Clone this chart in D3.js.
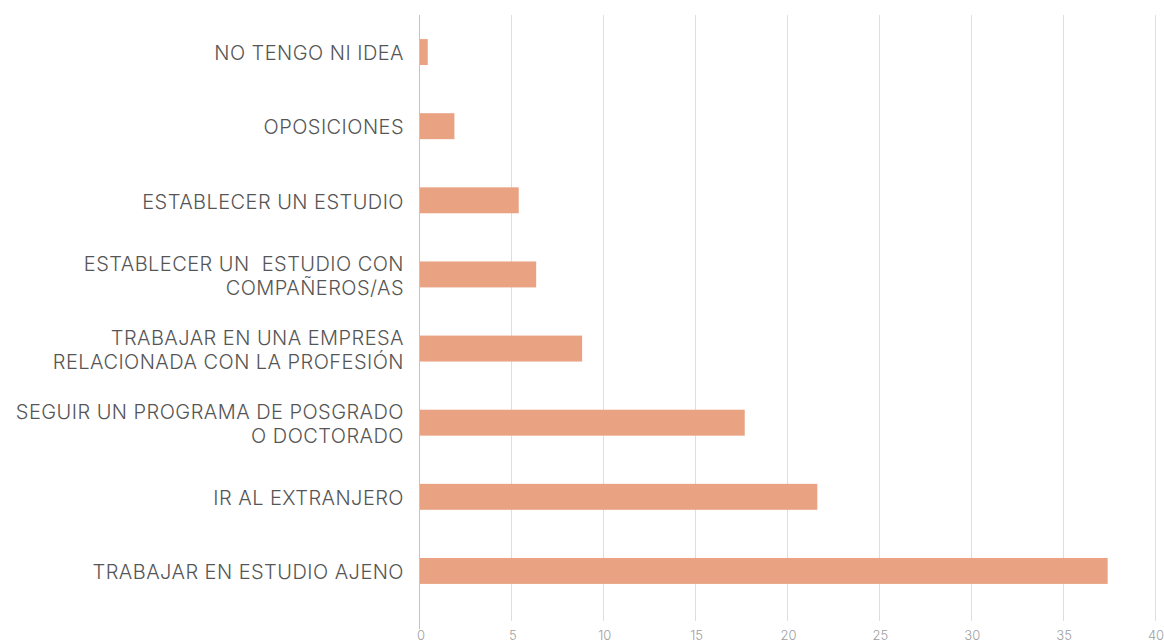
<!DOCTYPE html>
<html><head><meta charset="utf-8">
<script src="https://cdn.jsdelivr.net/npm/d3@7"></script>
<style>
body{margin:0;background:#fff;}
svg{display:block;}
</style></head>
<body><svg id="c" width="1164" height="644"></svg>
<script>
const categories = [
  ["NO TENGO NI IDEA"],
  ["OPOSICIONES"],
  ["ESTABLECER UN ESTUDIO"],
  ["ESTABLECER UN  ESTUDIO CON", "COMPAÑEROS/AS"],
  ["TRABAJAR EN UNA EMPRESA", "RELACIONADA CON LA PROFESIÓN"],
  ["SEGUIR UN PROGRAMA DE POSGRADO", "O DOCTORADO"],
  ["IR AL EXTRANJERO"],
  ["TRABAJAR EN ESTUDIO AJENO"]
];
const values = [0.45, 1.9, 5.4, 6.35, 8.85, 17.7, 21.65, 37.45];
const ticks = [0, 5, 10, 15, 20, 25, 30, 35, 40];

const svg = d3.select("#c");
const x = d3.scaleLinear().domain([0, 40]).range([419.5, 1154.5]);
const y = d3.scaleBand().domain(d3.range(categories.length)).range([15, 608]).paddingInner(0.65).paddingOuter(0.325);

// gridlines
svg.append("g").selectAll("line").data(ticks.slice(1)).join("line")
  .attr("x1", d => Math.round(x(d)) + 0.5).attr("x2", d => Math.round(x(d)) + 0.5)
  .attr("y1", 15).attr("y2", 621)
  .attr("stroke", "#dedede").attr("stroke-width", 1);

// bars
svg.append("g").selectAll("rect").data(values).join("rect")
  .attr("x", x(0) + 0.5).attr("y", (d, i) => y(i))
  .attr("width", d => x(d) - x(0) - 0.5).attr("height", y.bandwidth())
  .attr("fill", "#e9a382");

// zero axis line
svg.append("line").attr("x1", 419.5).attr("x2", 419.5).attr("y1", 15).attr("y2", 629)
  .attr("stroke", "#c4c4c4").attr("stroke-width", 1);

// tick labels
svg.append("g").selectAll("text").data(ticks).join("text")
  .attr("x", d => x(d) + 1.5).attr("y", 640)
  .attr("text-anchor", "middle")
  .attr("font-family", "Inter, Roboto, sans-serif").attr("font-size", 13)
  .attr("font-weight", 300)
  .attr("fill", "#a0a0a0")
  .text(d => d);

// category labels
const lg = svg.append("g").attr("font-family", "Inter, Roboto, sans-serif")
  .attr("font-size", 20).attr("font-weight", 300).attr("letter-spacing", "0.45px")
  .attr("fill", "#555555").attr("text-anchor", "end");
categories.forEach((lines, i) => {
  const cy = y(i) + y.bandwidth() / 2;
  const n = lines.length;
  lines.forEach((t, j) => {
    lg.append("text").attr("x", 404)
      .attr("y", cy + (j - (n - 1) / 2) * 24 + 1)
      .attr("dy", "0.36em")
      .style("white-space", "pre")
      .text(t);
  });
});
</script></body></html>
